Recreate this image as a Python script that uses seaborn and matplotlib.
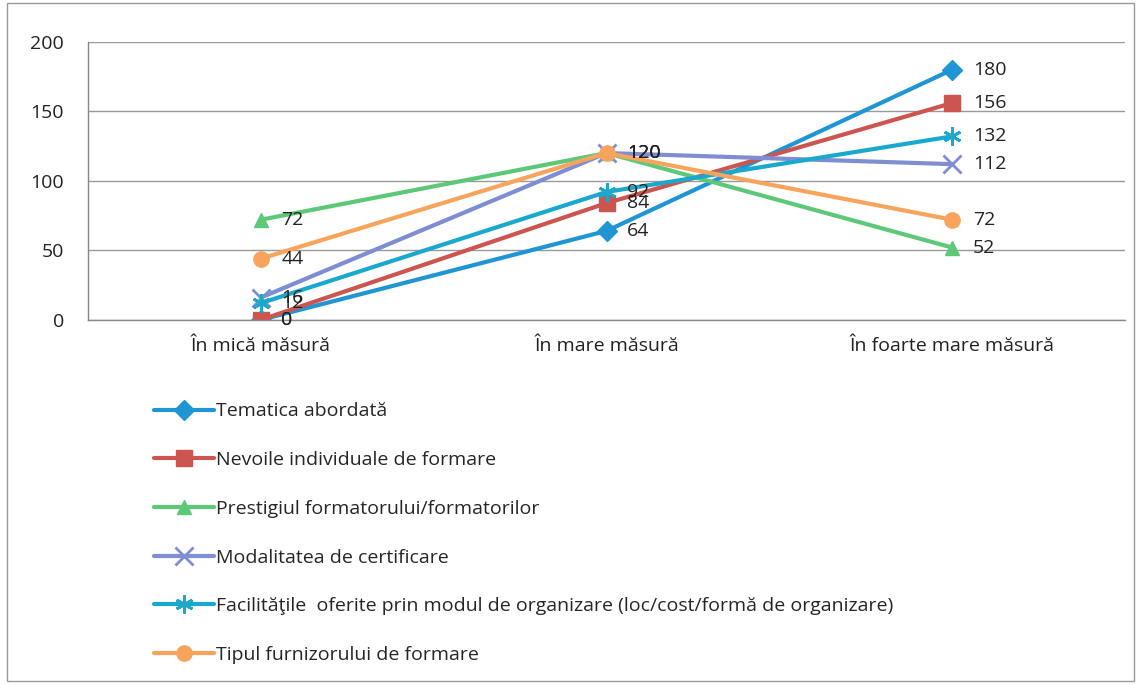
import pandas as pd
import seaborn as sns
import matplotlib.pyplot as plt
from matplotlib.patches import Rectangle

sns.set_style("white")
plt.rcParams['font.family'] = ['Open Sans', 'DejaVu Sans']

# data
categories = ['În mică măsură', 'În mare măsură', 'În foarte mare măsură']
series = ['Tematica abordată',
          'Nevoile individuale de formare',
          'Prestigiul formatorului/formatorilor',
          'Modalitatea de certificare',
          'Facilităţile  oferite prin modul de organizare (loc/cost/formă de organizare)',
          'Tipul furnizorului de formare']
tematica = [0, 64, 180]
nevoile = [0, 84, 156]
prestigiul = [72, 120, 52]
modalitatea = [16, 120, 112]
facilitatile = [12, 92, 132]
tipul = [44, 120, 72]

colors = ['#1F95D4', '#CD5550', '#5CC878', '#7F8DD2', '#1AA8CC', '#F9A45C']
markers = ['D', 's', '^', 'x', (6, 2, 0), 'o']
sizes = [10, 11, 10, 13, 13, 11]

values = [tematica, nevoile, prestigiul, modalitatea, facilitatile, tipul]
rows = []
for name, vals in zip(series, values):
    for i, v in enumerate(vals):
        rows.append({'cat': i, 'serie': name, 'val': v})
df = pd.DataFrame(rows)

fig = plt.figure(figsize=(11.39, 6.85), dpi=100)
ax = fig.add_axes([0.077, 0.533, 0.911, 0.406])

for (name, col, mk, ms) in zip(series, colors, markers, sizes):
    sub = df[df['serie'] == name]
    thin = mk in ('x', (6, 2, 0))
    sns.lineplot(data=sub, x='cat', y='val', ax=ax, color=col, marker=mk,
                 markersize=ms, linewidth=3, markeredgecolor=col,
                 markeredgewidth=2 if thin else 1,
                 label=name, legend=False)
    # data labels to the right of each point
    for i, v in enumerate(sub['val']):
        ax.text(i + 0.06, v, str(v), fontsize=14, color='#222222', va='center', ha='left')

ax.set_xlim(-0.5, 2.5)
ax.set_ylim(0, 200)
ax.set_yticks([0, 50, 100, 150, 200])
ax.set_xticks([0, 1, 2])
ax.set_xticklabels(categories)
ax.set_xlabel('')
ax.set_ylabel('')
ax.tick_params(axis='both', labelsize=14, colors='#222222')
ax.tick_params(axis='y', length=5, color='#888888', direction='out', pad=12)
ax.tick_params(axis='x', length=0, pad=12)
ax.yaxis.grid(True, color='#999999', linewidth=1)
for s in ['top', 'right']:
    ax.spines[s].set_visible(False)
for s in ['left', 'bottom']:
    ax.spines[s].set_color('#888888')
    ax.spines[s].set_linewidth(1)

handles, labels = ax.get_legend_handles_labels()
fig.legend(handles, labels, loc='upper left', bbox_to_anchor=(0.128, 0.424),
           frameon=False, fontsize=14, labelspacing=1.58, handlelength=3.1,
           handletextpad=0.1, borderaxespad=0)

fig.patches.append(Rectangle((0.006, 0.006), 0.99, 0.99, transform=fig.transFigure,
                             fill=False, edgecolor='#999999', linewidth=1))

fig.savefig('out.png', dpi=100)
